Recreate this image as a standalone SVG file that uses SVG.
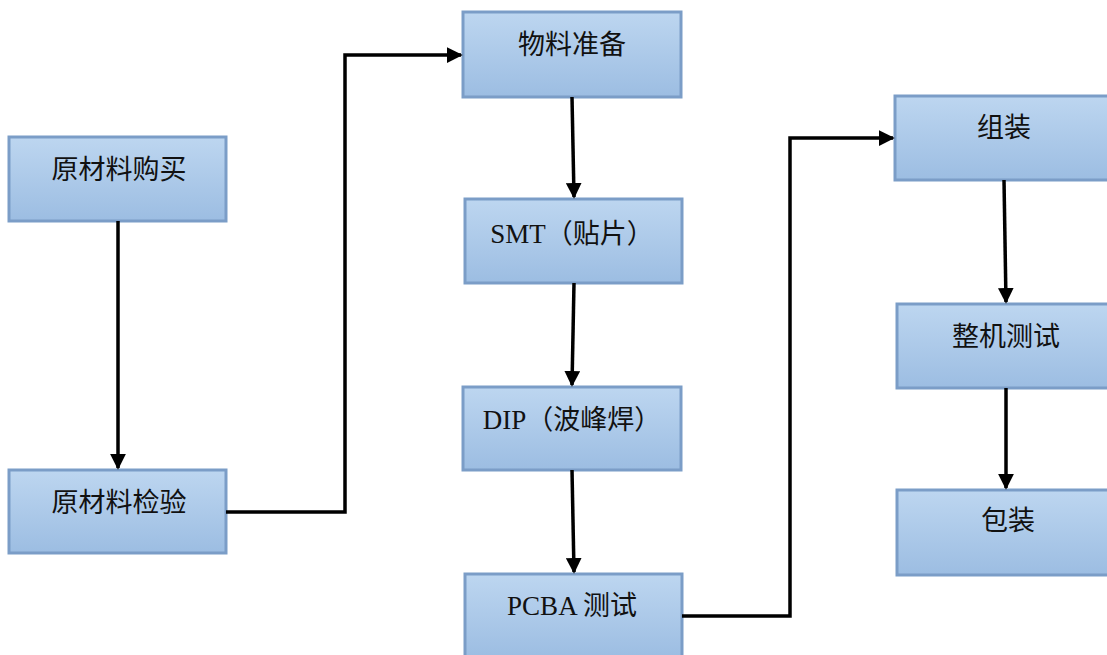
<svg xmlns="http://www.w3.org/2000/svg" width="1107" height="655" viewBox="0 0 1107 655">
<defs>
<linearGradient id="g" x1="0" y1="0" x2="0" y2="1">
<stop offset="0" stop-color="#bdd6f0"/>
<stop offset="1" stop-color="#9cbde2"/>
</linearGradient>
<marker id="ah" markerWidth="4.5" markerHeight="4.5" refX="4" refY="2.25" orient="auto" markerUnits="strokeWidth">
<path d="M0,0 L4.5,2.25 L0,4.5 Z" fill="#000"/>
</marker>
<style>
.box{fill:url(#g);stroke:#7b9dc7;stroke-width:3}
.t{font-family:"Liberation Serif","Noto Sans CJK SC",serif;font-size:27px;fill:#111;text-anchor:middle}
.c{fill:none;stroke:#000;stroke-width:3.5;marker-end:url(#ah)}
</style>
</defs>
<rect width="1107" height="655" fill="#fff"/>
<g id="n1"><rect class="box" x="9" y="137" width="217" height="84"/><text class="t" x="119" y="179">原材料购买</text></g>
<g id="n2"><rect class="box" x="9" y="470" width="217" height="83"/><text class="t" x="119" y="512">原材料检验</text></g>
<g id="n3"><rect class="box" x="463" y="12" width="218" height="85"/><text class="t" x="572" y="54">物料准备</text></g>
<g id="n4"><rect class="box" x="465" y="199" width="217" height="84"/><text class="t" x="572" y="243">SMT（贴片）</text></g>
<g id="n5"><rect class="box" x="463" y="387" width="218" height="83"/><text class="t" x="572" y="429">DIP（波峰焊）</text></g>
<g id="n6"><rect class="box" x="465" y="574" width="217" height="84"/><text class="t" x="572" y="615">PCBA 测试</text></g>
<g id="n7"><rect class="box" x="895" y="96" width="215" height="84"/><text class="t" x="1004" y="137">组装</text></g>
<g id="n8"><rect class="box" x="897" y="304" width="213" height="84"/><text class="t" x="1006" y="346">整机测试</text></g>
<g id="n9"><rect class="box" x="897" y="490" width="213" height="85"/><text class="t" x="1008" y="530">包装</text></g>
<g id="connectors">
<path class="c" d="M118,221 L118,468"/>
<path class="c" d="M226,512 L345,512 L345,55 L461,55"/>
<path class="c" d="M572,97 L574,197"/>
<path class="c" d="M574,283 L572,385"/>
<path class="c" d="M572,470 L574,572"/>
<path class="c" d="M682,616 L790,616 L790,138 L893,138"/>
<path class="c" d="M1004,180 L1006,302"/>
<path class="c" d="M1006,388 L1006,488"/>
</g>
</svg>
